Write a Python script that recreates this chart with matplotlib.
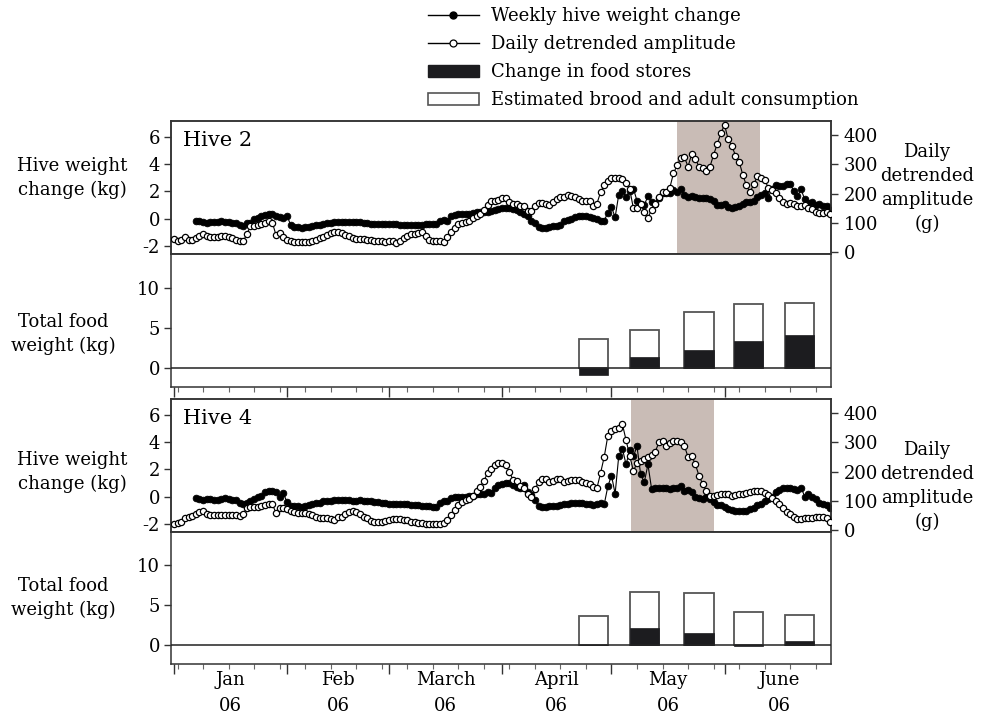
import numpy as np
import matplotlib
matplotlib.use("Agg")
import matplotlib.pyplot as plt
import matplotlib.dates as mdates
from matplotlib.lines import Line2D
from matplotlib.patches import Patch
from matplotlib.transforms import blended_transform_factory
import datetime as dt

plt.rcParams['font.family'] = ['DejaVu Serif']
plt.rcParams['font.size'] = 13
plt.rcParams['axes.unicode_minus'] = False

# ---------------- data ----------------
start_date = dt.date(2006, 1, 1)
amp_start_day = 0      # daily detrended amplitude starts Jan 1
wt_start_day = 6       # weekly hive weight change starts Jan 7

hive2_amplitude = [
    45, 36, 42, 53, 42, 40, 48, 56, 63, 55,
    52, 51, 52, 56, 55, 50, 47, 42, 38, 36,
    62, 88, 90, 92, 95, 98, 105, 100, 58, 64,
    52, 42, 37, 35, 34, 35, 35, 35, 37, 42,
    47, 52, 57, 65, 69, 68, 64, 59, 54, 49,
    46, 44, 43, 42, 41, 39, 38, 36, 34, 36,
    38, 30, 38, 48, 56, 61, 63, 65, 67, 55,
    42, 38, 37, 37, 35, 50, 68, 82, 95, 98,
    102, 106, 115, 123, 130, 143, 162, 175, 175, 178,
    185, 185, 170, 164, 166, 159, 156, 139, 142, 157,
    167, 167, 166, 162, 172, 183, 190, 187, 194, 193,
    189, 180, 176, 175, 175, 156, 165, 205, 228, 244,
    252, 253, 252, 251, 236, 215, 150, 152, 165, 138,
    118, 144, 166, 190, 204, 205, 220, 270, 297, 322,
    324, 293, 336, 320, 292, 288, 278, 292, 333, 370,
    407, 436, 386, 365, 330, 310, 265, 228, 205, 232,
    259, 253, 248, 220, 212, 203, 186, 170, 165, 167,
    163, 158, 157, 161, 152, 146, 138, 133, 135, 136, 130]

hive2_weight = [
    -0.15, -0.2, -0.22, -0.3,
    -0.25, -0.28, -0.22, -0.2, -0.22, -0.28, -0.32, -0.35, -0.45, -0.56,
    -0.35, -0.3, -0.05, 0.05, 0.15, 0.28, 0.32, 0.3, 0.2, 0.1,
    0.05, 0.2, -0.45, -0.65, -0.62, -0.68, -0.65, -0.6, -0.55, -0.5,
    -0.45, -0.4, -0.35, -0.3, -0.28, -0.25, -0.25, -0.22, -0.25, -0.25,
    -0.22, -0.28, -0.3, -0.35, -0.38, -0.42, -0.4, -0.42, -0.4, -0.42,
    -0.4, -0.42, -0.45, -0.44, -0.45, -0.46, -0.45, -0.44, -0.45, -0.42,
    -0.42, -0.4, -0.38, -0.2, -0.1, -0.2, 0.15, 0.25, 0.3, 0.32,
    0.3, 0.35, 0.4, 0.45, 0.45, 0.45, 0.47, 0.55, 0.6, 0.7,
    0.78, 0.75, 0.78, 0.7, 0.6, 0.5, 0.35, 0.2, -0.15, -0.32,
    -0.6, -0.7, -0.68, -0.62, -0.58, -0.55, -0.45, -0.2, -0.1, -0.05,
    0.12, 0.15, 0.15, 0.15, 0.08, 0.05, -0.05, -0.15, -0.15, 0.42,
    0.83, 0.1, 1.76, 2.05, 1.57, 2.0, 2.2, 1.3, 1.1, 1.0,
    1.64, 1.2, 1.1, 1.5, 1.9, 1.9, 1.85, 2.1, 1.95, 2.2,
    1.7, 1.6, 1.62, 1.6, 1.52, 1.5, 1.47, 1.4, 1.32, 1.0,
    1.0, 1.03, 0.85, 0.78, 0.82, 0.9, 1.03, 1.2, 1.23, 1.3,
    1.6, 1.75, 1.89, 1.52, 2.2, 2.45, 2.35, 2.35, 2.5, 2.55,
    2.0, 1.65, 2.13, 1.4, 1.15, 1.23, 1.0, 1.03, 0.95, 0.9, 0.66]

hive4_amplitude = [
    22, 24, 28, 40, 46, 48, 55, 62, 64, 55,
    52, 51, 51, 51, 51, 51, 51, 51, 49, 55,
    75, 80, 79, 79, 81, 85, 88, 88, 58, 75,
    74, 72, 64, 60, 59, 59, 58, 55, 50, 45,
    42, 42, 40, 36, 35, 44, 44, 56, 62, 65,
    63, 55, 46, 41, 32, 28, 26, 27, 30, 33,
    37, 37, 37, 34, 33, 29, 27, 25, 24, 22,
    21, 20, 20, 22, 25, 33, 50, 69, 85, 96,
    102, 107, 117, 132, 148, 168, 195, 210, 222, 230,
    231, 222, 200, 171, 168, 152, 145, 125, 113, 140,
    163, 174, 175, 166, 167, 175, 175, 166, 168, 172,
    172, 170, 166, 160, 157, 146, 143, 195, 250, 323,
    340, 345, 350, 362, 308, 254, 203, 228, 237, 244,
    251, 256, 268, 300, 305, 289, 297, 304, 305, 300,
    288, 250, 255, 225, 186, 158, 134, 118, 117, 119,
    122, 125, 122, 118, 119, 122, 125, 128, 131, 132,
    135, 132, 127, 119, 108, 101, 88, 74, 63, 54,
    44, 38, 37, 40, 42, 42, 44, 44, 43, 40, 29]

hive4_weight = [
    -0.1, -0.2, -0.25, -0.2,
    -0.18, -0.22, -0.25, -0.15, -0.12, -0.17, -0.22, -0.29, -0.45, -0.58,
    -0.45, -0.3, -0.15, -0.05, 0.05, 0.3, 0.44, 0.4, 0.3, 0.0,
    0.25, -0.4, -0.66, -0.66, -0.7, -0.74, -0.7, -0.6, -0.55, -0.5,
    -0.45, -0.35, -0.32, -0.3, -0.27, -0.25, -0.25, -0.27, -0.29, -0.3,
    -0.3, -0.29, -0.32, -0.34, -0.36, -0.4, -0.42, -0.45, -0.5, -0.52,
    -0.52, -0.54, -0.55, -0.56, -0.58, -0.6, -0.6, -0.62, -0.66, -0.7,
    -0.72, -0.74, -0.74, -0.5, -0.35, -0.3, -0.12, 0.0, 0.0, -0.02,
    -0.05, 0.05, 0.07, 0.15, 0.18, 0.2, 0.32, 0.28, 0.65, 0.81,
    0.93, 1.0, 1.0, 0.81, 0.72, 0.6, 0.85, 0.3, 0.1, -0.25,
    -0.7, -0.74, -0.74, -0.72, -0.69, -0.66, -0.62, -0.55, -0.54, -0.5,
    -0.49, -0.49, -0.5, -0.54, -0.56, -0.59, -0.56, -0.45, -0.58, 0.74,
    1.54, 0.2, 3.0, 3.5, 2.35, 3.4, 2.94, 3.68, 1.62, 1.05,
    2.35, 0.56, 0.6, 0.62, 0.62, 0.64, 0.58, 0.6, 0.62, 0.8,
    0.4, 0.5, 0.3, -0.05, -0.12, -0.15, 0.0, -0.2, -0.4, -0.62,
    -0.6, -0.75, -0.88, -1.0, -1.08, -1.05, -1.03, -1.03, -0.95, -0.85,
    -0.62, -0.54, -0.35, -0.15, 0.0, 0.3, 0.5, 0.6, 0.64, 0.6,
    0.52, 0.5, 0.64, 0.0, 0.15, -0.05, -0.2, -0.45, -0.56, -0.6, -0.83]

# bars: day-of-year of bar centres
bar_days = [115, 129, 144, 157.5, 171.5]
hive2_total = [3.6, 4.66, 6.95, 8.0, 8.1]
hive2_stores = [-0.85, 1.29, 2.16, 3.33, 4.04]
hive4_total = [3.68, 6.69, 6.58, 4.1, 3.76]
hive4_stores = [0.05, 2.1, 1.54, -0.1, 0.53]

# shaded periods (day of year)
hive2_shade = (138, 160.6)
hive4_shade = (125.3, 148.1)

months = ["Jan", "Feb", "March", "April", "May", "June"]
year_lbl = "06"

legend_labels = ["Weekly hive weight change", "Daily detrended amplitude",
                 "Change in food stores", "Estimated brood and adult consumption"]

# ---------------- helpers ----------------
base = mdates.date2num(np.datetime64(start_date))
def days_to_num(d):
    return base + np.asarray(d, dtype=float)

amp_days = amp_start_day + np.arange(len(hive2_amplitude))
wt_days = wt_start_day + np.arange(len(hive2_weight))
amp_days4 = amp_start_day + np.arange(len(hive4_amplitude))
wt_days4 = wt_start_day + np.arange(len(hive4_weight))

XLIM = (days_to_num(-0.8), days_to_num(180.2))
SPINE_C = '#333333'
SHADE_C = '#c9bcb6'
BLACK = '#1c1c1f'

fig = plt.figure(figsize=(9.97, 7.16), dpi=100)
L = 171 / 997
W = 660 / 997
def ax_rect(top, bot):
    return [L, 1 - bot / 716, W, (bot - top) / 716]

ax1 = fig.add_axes(ax_rect(121, 254))
ax2 = fig.add_axes(ax_rect(254, 387))
ax3 = fig.add_axes(ax_rect(399, 532))
ax4 = fig.add_axes(ax_rect(532, 664))

def style_spines(ax):
    for s in ax.spines.values():
        s.set_color(SPINE_C)
        s.set_linewidth(1.1)

def line_panel(ax, wdays, wvals, adays, avals, shade, title):
    ax.axvspan(days_to_num(shade[0]), days_to_num(shade[1]), color=SHADE_C, lw=0, zorder=0)
    ax.plot(days_to_num(wdays), wvals, '-', color='black', lw=0.8,
            marker='o', ms=4.8, mfc='black', mec='black', mew=0.6, zorder=3)
    ax.set_xlim(*XLIM)
    ax.set_ylim(-2.6, 7.15)
    ax.set_yticks([-2, 0, 2, 4, 6])
    ax.tick_params(axis='y', direction='out', length=5, width=1, color=SPINE_C, pad=3)
    ax.tick_params(axis='x', which='both', bottom=False, top=False, labelbottom=False)
    style_spines(ax)
    axr = ax.twinx()
    axr.plot(days_to_num(adays), avals, '-', color='black', lw=0.8,
             marker='o', ms=4.5, mfc='white', mec='black', mew=0.9, zorder=3)
    axr.set_ylim(-7, 449)
    axr.set_yticks([0, 100, 200, 300, 400])
    axr.tick_params(axis='y', direction='out', length=5, width=1, color=SPINE_C, pad=4)
    axr.set_xlim(*XLIM)
    style_spines(axr)
    ax.text(0.018, 0.85, title, transform=ax.transAxes, fontsize=15,
            ha='left', va='center')
    return axr

def bar_panel(ax, totals, stores):
    x = days_to_num(bar_days)
    ax.bar(x, totals, width=8, color='white', edgecolor='#555555', lw=1.3, zorder=2)
    ax.bar(x, stores, width=8, color=BLACK, edgecolor=BLACK, lw=0.5, zorder=3)
    ax.axhline(0, color='#222222', lw=1.1, zorder=4)
    ax.set_xlim(*XLIM)
    ax.set_ylim(-2.4, 14.2)
    ax.set_yticks([0, 5, 10])
    ax.tick_params(axis='y', direction='out', length=5, width=1, color=SPINE_C, pad=3)
    ax.xaxis.set_major_locator(mdates.MonthLocator())
    ax.xaxis.set_minor_locator(mdates.WeekdayLocator(byweekday=mdates.MO))
    ax.tick_params(axis='x', which='major', direction='out', length=7, width=1, color=SPINE_C)
    ax.tick_params(axis='x', which='minor', direction='out', length=3.5, width=0.8, color='#666666')
    ax.tick_params(axis='x', labelbottom=False)
    style_spines(ax)

line_panel(ax1, wt_days, hive2_weight, amp_days, hive2_amplitude, hive2_shade, "Hive 2")
bar_panel(ax2, hive2_total, hive2_stores)
line_panel(ax3, wt_days4, hive4_weight, amp_days4, hive4_amplitude, hive4_shade, "Hive 4")
bar_panel(ax4, hive4_total, hive4_stores)

# month labels
trans = blended_transform_factory(ax4.transData, fig.transFigure)
for i, m in enumerate(months):
    s = mdates.date2num(np.datetime64(dt.date(2006, i + 1, 1)))
    e = mdates.date2num(np.datetime64(dt.date(2006, i + 2, 1)))
    ax4.text((s + e) / 2, 1 - 671 / 716, m + "\n" + year_lbl, transform=trans,
             ha='center', va='top', linespacing=1.6)

# side labels
for yc, yr in ((178, 188), (472, 486)):
    fig.text(72 / 997, 1 - yc / 716, "Hive weight\nchange (kg)", ha='center', va='center',
             linespacing=1.45)
    fig.text(927 / 997, 1 - yr / 716, "Daily\ndetrended\namplitude\n(g)",
             ha='center', va='center', linespacing=1.4)
for yc in (334, 598):
    fig.text(63 / 997, 1 - yc / 716, "Total food\nweight (kg)", ha='center', va='center',
             linespacing=1.45)

# legend
handles = [
    Line2D([], [], color='black', lw=1.0, marker='o', ms=5, mfc='black', mec='black'),
    Line2D([], [], color='black', lw=1.0, marker='o', ms=5, mfc='white', mec='black', mew=0.9),
    Patch(facecolor=BLACK, edgecolor=BLACK),
    Patch(facecolor='white', edgecolor='#555555', lw=1.2),
]
fig.legend(handles, legend_labels, loc='upper left', bbox_to_anchor=(428 / 997, 1 - 7 / 716),
           frameon=False, borderpad=0, borderaxespad=0, handlelength=2.8, handletextpad=0.7,
           labelspacing=0.56, numpoints=1)

fig.savefig("out.png", dpi=100)
